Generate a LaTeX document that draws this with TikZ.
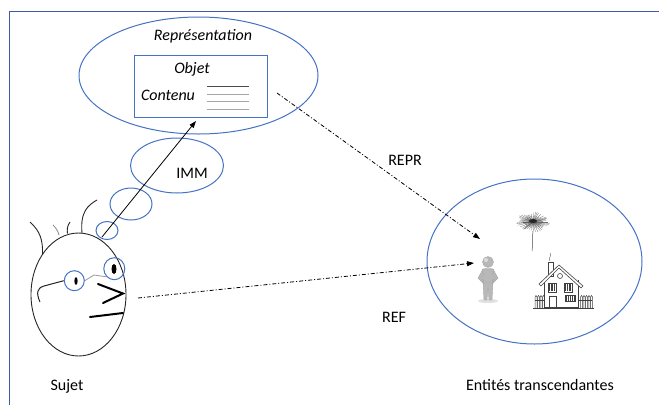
\documentclass[tikz,border=0pt]{standalone}
\usepackage{fontspec}
\setmainfont{Carlito}
\usetikzlibrary{arrows.meta,shapes.geometric}
\definecolor{oblue}{RGB}{68,114,196}
\definecolor{fblue}{RGB}{63,90,168}
\tikzset{
  bubble/.style={draw=oblue,line width=1pt,ellipse,inner sep=0pt},
  lbl/.style={font=\fontsize{16}{19}\selectfont,inner sep=0pt},
  ilbl/.style={font=\fontsize{16}{19}\selectfont\itshape,inner sep=0pt},
  dd/.style={line width=0.8pt,dash pattern=on 4pt off 2pt on 1pt off 2pt,-{Triangle[length=7pt,width=5pt]}},
  ink/.style={line width=0.9pt,black!85},
  thick2/.style={line width=2pt,black},
  sketch/.style={line width=0.5pt,black!70},
}
\begin{document}
\begin{tikzpicture}[x=1pt,y=-1pt]
\useasboundingbox (0,0) rectangle (659,405);
% frame
\draw[fblue,line width=1.5pt] (9.5,405) -- (9.5,11.5) -- (659,11.5);

% Representation ellipse and object box
\node[bubble,minimum width=239pt,minimum height=117pt] (repr) at (198.5,75.5) {};
\node[ilbl] (reprt) at (203,36) {Représentation};
\node[draw=oblue,line width=1pt,minimum width=133pt,minimum height=62pt,inner sep=0pt] (obj) at (200.5,86) {};
\node[ilbl] (objt) at (192,69) {Objet};
\node[ilbl] (cont) at (168,95) {Contenu};
\draw[black!70,line width=0.8pt] (207,86) -- (249,86);
\draw[black!35,line width=0.8pt] (207,94) -- (249,94);
\draw[black!35,line width=0.8pt] (207,101) -- (249,101);
\draw[black!35,line width=0.8pt] (207,109) -- (249,109);

% thought bubbles
\node[bubble,minimum width=93pt,minimum height=55pt] (imm) at (177,165.5) {};
\node[lbl] (immt) at (192,173) {IMM};
\node[bubble,minimum width=42pt,minimum height=32pt] (b2) at (131,204) {};
\node[bubble,minimum width=22pt,minimum height=18pt] (b3) at (107,230.5) {};

% face
\node[draw=black!85,line width=0.9pt,ellipse,minimum width=95pt,minimum height=123pt,inner sep=0pt] (face) at (78.5,294.5) {};
% hair
\draw[ink] (30,222) .. controls (40,231) and (43,240) .. (42.5,254);
\draw[black!45,line width=0.8pt] (53,225) .. controls (56,228) and (58,231) .. (59,235);
\draw[ink] (70,222) .. controls (67,226) and (67,230) .. (67.5,233.5);
\draw[ink] (97,200) .. controls (88,205) and (80,212) .. (82,233);
% eyes
\node[draw=oblue,line width=1pt,circle,minimum size=20pt,inner sep=0pt] (eyeL) at (74.3,280.7) {};
\node[draw=oblue,line width=1pt,ellipse,minimum width=21pt,minimum height=22pt,inner sep=0pt] (eyeR) at (114.3,268.7) {};
\fill[black] (76,281) ellipse (1.6pt and 4pt);
\fill[black] (114,269) ellipse (2.5pt and 5pt);
\draw[black!40,line width=0.8pt] (eyeL.east) -- (94,275) -- (eyeR.south west);
\draw[ink,line width=1pt] (eyeL.west) -- (44,286) .. controls (37,288) and (36,293) .. (40,302);
% nose and mouth
\draw[thick2,line cap=round] (98,284) -- (123,293.5) -- (103,303);
\draw[thick2,line cap=round] (90,317) -- (123,313);

% arrow from subject to object
\coordinate (immStart) at (102,237);
\coordinate (immEnd) at (196,121);
\draw[black,line width=0.8pt,-{Triangle[length=7pt,width=5pt]}] (immStart) -- (immEnd);

% right ellipse
\node[bubble,minimum width=215pt,minimum height=165pt] (ent) at (534.5,261.5) {};

% person
\coordinate (person) at (488,280);
\fill[black!12] (488,301) ellipse (10pt and 2pt);
\begin{scope}[fill=black!28,draw=black!35,line width=0.4pt]
  \filldraw (483,281) -- (484,300) -- (487,300) -- (488,288) -- (489,300) -- (492,300) -- (493,281) -- cycle;
  \filldraw (482,270) .. controls (481,268) and (495,268) .. (494,270) -- (493,283) -- (483,283) -- cycle;
  \filldraw (482,271) -- (478,278) -- (483,283) -- (484,281) -- (481,278) -- (484,274) -- cycle;
  \filldraw (494,271) -- (498,278) -- (493,283) -- (492,281) -- (495,278) -- (492,274) -- cycle;
  \filldraw (488,262) circle (5.5pt);
\end{scope}
\fill[white,opacity=0.5] (486,260) circle (2pt);

% flower
\coordinate (flower) at (533,223);
\draw[sketch] (533,231) .. controls (532,240) and (533,245) .. (532,251);
\foreach \a in {0,8,...,352} {
  \draw[black!55,line width=0.3pt] (533,222) -- ++({\a}:{15 + 2*sin(7*\a)} and {9 + 1.5*cos(5*\a)});
}
\foreach \a in {4,20,...,356} {
  \draw[black!65,line width=0.3pt] (533,222) -- ++({\a}:{10} and {6});
}
\fill[black!85] (533,221) ellipse (4pt and 2pt);

% house
\coordinate (house) at (563,285);
\begin{scope}[line width=0.6pt,black!75]
  % chimney and smoke
  \draw (548,262) rectangle (553,276);
  \draw[black!60,line width=0.4pt] (550,261) .. controls (547,258) and (553,256) .. (550,253);
  % walls
  \draw (544,280) -- (544,307) -- (578,307) -- (578,280);
  % roof
  \draw[fill=white] (539,284) -- (559,265) -- (583,286) -- (581,288) -- (559,268) -- (541,286) -- cycle;
  % gable window
  \draw (560,276) circle (2.5pt);
  % windows
  \draw (548,283) rectangle (556,292);
  \draw (564,283) rectangle (572,292);
  \draw (565,295) rectangle (575,301);
  \draw[fill=white] (549,296) rectangle (556,307);
  \foreach \x in {549.5,551,552.5,554.5} \draw[line width=0.3pt] (\x,284) -- (\x,291);
  \foreach \x in {565.5,567,569,570.5} \draw[line width=0.3pt] (\x,284) -- (\x,291);
  \foreach \x in {566,568,570,572,574} \draw[line width=0.3pt] (\x,295.5) -- (\x,300.5);
  % fence
  \foreach \x in {535,537.5,540,542.5,580.5,583,585.5,588,590.5} {
    \draw[line width=0.5pt] (\x,308) -- (\x,297) -- (\x+1,295.5) -- (\x+2,297) -- (\x+2,308);
  }
  \draw[line width=0.4pt] (535,300) -- (544,300);
  \draw[line width=0.4pt] (578,300) -- (592,300);
  \draw[line width=0.8pt] (533,308) -- (594,308);
\end{scope}

% dash-dot connectors
\coordinate (reprStart) at (277,93);
\coordinate (reprEnd) at (480,239);
\draw[dd] (reprStart) -- (reprEnd);
\node[lbl] (reprl) at (405,160) {REPR};
\coordinate (refStart) at (138,298);
\coordinate (refEnd) at (474,263);
\draw[dd] (refStart) -- (refEnd);
\node[lbl] (refl) at (394,317) {REF};

% labels
\node[lbl] (sujet) at (67,386) {Sujet};
\node[lbl] (entl) at (540,385) {Entités transcendantes};
\end{tikzpicture}
\end{document}
